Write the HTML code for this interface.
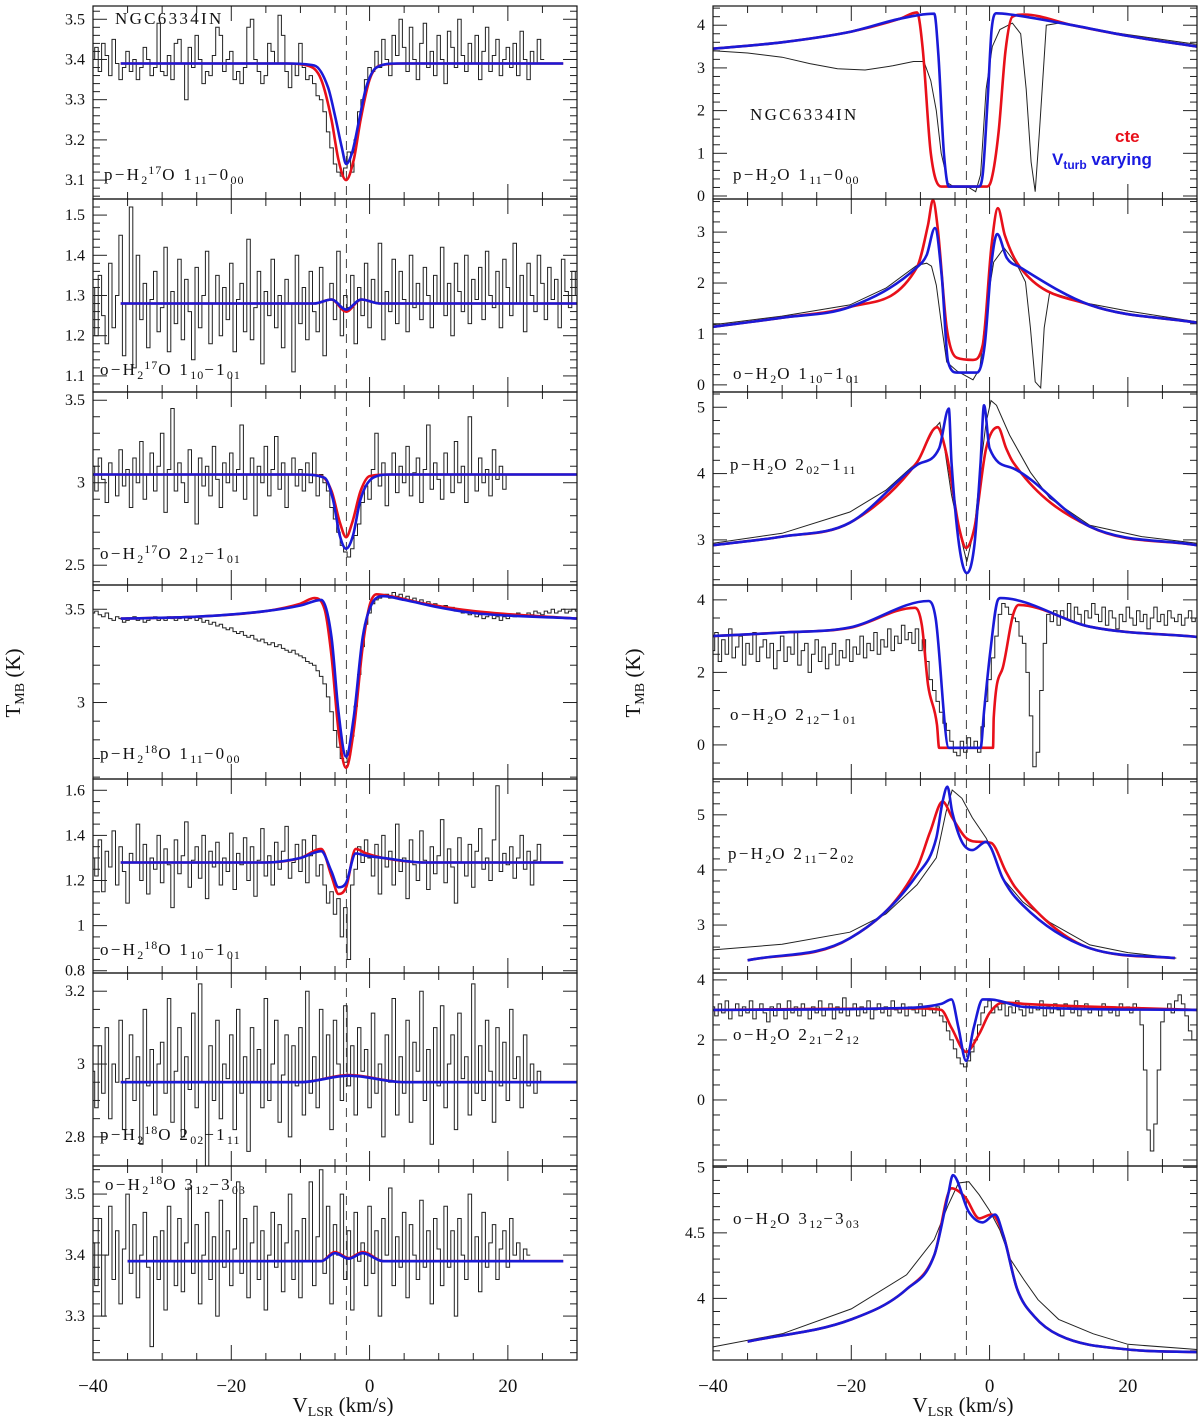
<!DOCTYPE html>
<html><head><meta charset="utf-8">
<style>
body{margin:0;background:#fff;}
#wrap{position:relative;width:1200px;height:1416px;overflow:hidden;font-family:"Liberation Serif",serif;}
svg{position:absolute;left:0;top:0;}
.lab{position:absolute;font-size:17px;line-height:17px;color:#111;white-space:nowrap;letter-spacing:2.3px;}
.lab sub{font-size:12px;vertical-align:-4px;line-height:0;letter-spacing:1px;}
.lab sup{font-size:12px;vertical-align:6px;line-height:0;letter-spacing:1px;}
.cte{position:absolute;font-family:"Liberation Sans",sans-serif;font-weight:bold;font-size:17px;color:#e8101a;}
.vt{position:absolute;font-family:"Liberation Sans",sans-serif;font-weight:bold;font-size:17px;color:#1a1ae0;white-space:nowrap;}
.vt sub{font-size:12px;vertical-align:-4px;line-height:0;}
</style></head><body>
<div id="wrap">
<svg id="chart" width="1200" height="1416"></svg>

<div class="lab" style="left:115px;top:10px">NGC6334IN</div>
<div class="lab" style="left:104px;top:166px">p−H<sub>2</sub><sup>17</sup>O 1<sub>11</sub>−0<sub>00</sub></div>
<div class="lab" style="left:100px;top:361px">o−H<sub>2</sub><sup>17</sup>O 1<sub>10</sub>−1<sub>01</sub></div>
<div class="lab" style="left:100px;top:545px">o−H<sub>2</sub><sup>17</sup>O 2<sub>12</sub>−1<sub>01</sub></div>
<div class="lab" style="left:100px;top:745px">p−H<sub>2</sub><sup>18</sup>O 1<sub>11</sub>−0<sub>00</sub></div>
<div class="lab" style="left:100px;top:941px">o−H<sub>2</sub><sup>18</sup>O 1<sub>10</sub>−1<sub>01</sub></div>
<div class="lab" style="left:100px;top:1126px">p−H<sub>2</sub><sup>18</sup>O 2<sub>02</sub>−1<sub>11</sub></div>
<div class="lab" style="left:105px;top:1176px">o−H<sub>2</sub><sup>18</sup>O 3<sub>12</sub>−3<sub>03</sub></div>

<div class="lab" style="left:750px;top:106px">NGC6334IN</div>
<div class="lab" style="left:733px;top:166px">p−H<sub>2</sub>O 1<sub>11</sub>−0<sub>00</sub></div>
<div class="lab" style="left:733px;top:365px">o−H<sub>2</sub>O 1<sub>10</sub>−1<sub>01</sub></div>
<div class="lab" style="left:730px;top:456px">p−H<sub>2</sub>O 2<sub>02</sub>−1<sub>11</sub></div>
<div class="lab" style="left:730px;top:706px">o−H<sub>2</sub>O 2<sub>12</sub>−1<sub>01</sub></div>
<div class="lab" style="left:728px;top:845px">p−H<sub>2</sub>O 2<sub>11</sub>−2<sub>02</sub></div>
<div class="lab" style="left:733px;top:1026px">o−H<sub>2</sub>O 2<sub>21</sub>−2<sub>12</sub></div>
<div class="lab" style="left:733px;top:1210px">o−H<sub>2</sub>O 3<sub>12</sub>−3<sub>03</sub></div>

<div class="cte" style="left:1115px;top:127px">cte</div>
<div class="vt" style="left:1052px;top:150px">V<sub>turb</sub> varying</div>
</div>

<script>
// ---------- observed spectra on 0.5 km/s grids (start -40) ----------
const l1Obs=[3.40,3.43,3.37,3.44,3.41,3.36,3.45,3.39,3.35,3.38,3.42,3.37,3.40,3.35,3.38,3.43,3.40,3.36,3.38,3.49,3.37,
3.36,3.41,3.35,3.44,3.45,3.39,3.30,3.43,3.38,3.46,3.40,3.34,3.37,3.36,3.41,3.48,3.46,3.37,3.40,3.42,
3.35,3.37,3.34,3.38,3.48,3.50,3.40,3.37,3.34,3.36,3.44,3.42,3.39,3.51,3.46,3.37,3.33,3.39,3.36,3.44,
3.38,3.35,3.36,3.34,3.31,3.30,3.27,3.22,3.18,3.14,3.12,3.11,3.13,3.17,3.12,3.20,3.27,3.30,3.35,3.38,
3.37,3.42,3.38,3.45,3.40,3.36,3.46,3.41,3.50,3.43,3.37,3.48,3.40,3.35,3.44,3.49,3.38,3.42,3.36,3.46,
3.40,3.34,3.47,3.43,3.38,3.50,3.41,3.37,3.44,3.39,3.46,3.35,3.42,3.48,3.37,3.41,3.45,3.36,3.40,3.43,
3.38,3.44,3.36,3.47,3.40,3.35,3.42,3.39,3.45,3.40];
const l2Obs=[1.32,1.20,1.35,1.25,1.18,1.38,1.22,1.30,1.45,1.15,1.28,1.52,1.12,1.40,1.24,1.33,1.17,1.29,1.36,1.21,
1.27,1.42,1.16,1.31,1.23,1.39,1.19,1.34,1.26,1.14,1.37,1.22,1.30,1.41,1.18,1.28,1.35,1.20,1.32,1.24,
1.38,1.16,1.29,1.33,1.21,1.44,1.19,1.27,1.36,1.13,1.31,1.25,1.39,1.22,1.30,1.17,1.34,1.28,1.11,1.40,
1.23,1.32,1.19,1.36,1.26,1.21,1.37,1.15,1.29,1.33,1.24,1.41,1.20,1.30,1.27,1.35,1.18,1.32,1.25,1.38,
1.22,1.34,1.28,1.43,1.19,1.31,1.26,1.39,1.23,1.36,1.29,1.21,1.40,1.27,1.33,1.24,1.37,1.30,1.22,1.35,
1.28,1.42,1.25,1.33,1.20,1.38,1.31,1.26,1.40,1.23,1.34,1.29,1.37,1.24,1.41,1.30,1.27,1.36,1.22,1.39,
1.32,1.25,1.43,1.28,1.35,1.21,1.38,1.30,1.26,1.40,1.33,1.24,1.37,1.29,1.34,1.22,1.39,1.31,1.27,1.36,1.30];
const l3Obs=[3.10,2.95,3.15,3.02,2.88,3.12,3.05,2.92,3.20,2.98,3.08,2.85,3.15,3.00,3.25,2.90,3.05,3.18,2.95,3.10,
3.30,2.82,3.08,3.45,2.95,3.12,3.00,2.88,3.20,3.05,2.75,3.15,2.98,3.10,2.92,3.22,3.02,2.85,3.12,3.00,
3.18,2.95,3.08,3.35,2.90,3.05,3.15,2.80,3.10,3.00,3.22,2.92,3.08,3.28,2.96,3.12,2.85,3.05,3.15,2.98,
3.08,2.95,3.12,3.00,3.18,2.92,3.05,3.00,2.95,2.85,2.78,2.70,2.62,2.58,2.55,2.60,2.68,2.75,2.88,2.98,
2.90,3.08,3.30,2.98,3.12,2.86,3.05,3.18,2.94,3.10,3.00,3.22,2.92,3.06,3.15,2.88,3.08,3.35,2.96,3.12,
3.02,2.90,3.18,3.05,2.94,3.25,3.00,3.10,2.88,3.40,3.05,2.95,3.15,3.00,3.08,2.92,3.20,3.02,3.10,2.96,3.05];
const l4Obs=[3.48,3.49,3.47,3.46,3.48,3.45,3.44,3.46,3.45,3.43,3.44,3.45,3.46,3.44,3.45,3.43,3.44,3.45,3.46,3.44,
3.45,3.44,3.46,3.45,3.44,3.45,3.46,3.44,3.45,3.46,3.44,3.45,3.43,3.44,3.42,3.43,3.41,3.42,3.40,3.39,
3.40,3.38,3.37,3.38,3.36,3.35,3.36,3.34,3.33,3.34,3.32,3.31,3.32,3.30,3.31,3.29,3.28,3.27,3.28,3.26,
3.25,3.24,3.22,3.21,3.20,3.17,3.14,3.10,3.03,2.95,2.85,2.76,2.70,2.68,2.72,2.82,2.98,3.15,3.30,3.42,
3.48,3.53,3.55,3.56,3.57,3.58,3.56,3.59,3.57,3.58,3.56,3.57,3.55,3.56,3.54,3.55,3.53,3.54,3.52,3.53,
3.52,3.51,3.52,3.50,3.51,3.49,3.50,3.48,3.49,3.47,3.48,3.46,3.47,3.45,3.46,3.47,3.45,3.46,3.44,3.46,
3.45,3.47,3.46,3.48,3.47,3.46,3.48,3.47,3.49,3.48,3.47,3.49,3.48,3.50,3.48,3.49,3.50,3.48,3.49,3.50,3.49];
const l5Obs=[1.30,1.22,1.38,1.15,1.33,1.26,1.42,1.18,1.35,1.24,1.10,1.32,1.28,1.45,1.20,1.36,1.14,1.30,1.25,1.40,
1.19,1.34,1.27,1.08,1.38,1.23,1.31,1.46,1.17,1.29,1.35,1.21,1.40,1.12,1.33,1.26,1.37,1.18,1.30,1.24,
1.41,1.16,1.32,1.27,1.39,1.20,1.35,1.13,1.29,1.43,1.22,1.31,1.18,1.37,1.25,1.33,1.44,1.21,1.28,1.36,
1.24,1.38,1.19,1.31,1.40,1.22,1.27,1.18,1.10,1.15,1.05,1.12,0.95,1.08,0.85,1.18,1.25,1.35,1.28,1.38,
1.30,1.22,1.36,1.14,1.40,1.26,1.33,1.18,1.45,1.24,1.30,1.12,1.38,1.27,1.20,1.42,1.29,1.16,1.35,1.23,
1.31,1.47,1.19,1.34,1.26,1.10,1.39,1.28,1.22,1.36,1.17,1.33,1.43,1.25,1.30,1.20,1.38,1.62,1.24,1.32,
1.27,1.35,1.21,1.30,1.40,1.25,1.33,1.18,1.29,1.36,1.28];
const l6Obs=[2.98,2.88,3.05,2.92,3.10,2.85,3.00,2.95,3.12,2.82,2.96,3.08,2.90,3.02,2.78,3.15,2.94,3.04,2.86,3.00,
3.06,2.92,3.18,2.84,2.98,3.10,2.80,3.02,2.93,3.14,2.88,3.22,2.95,2.70,3.05,2.90,3.12,2.85,3.00,2.96,
3.08,2.82,3.15,2.92,3.02,2.76,3.10,2.95,3.04,2.88,3.18,2.90,3.00,3.12,2.84,2.97,3.08,2.80,3.05,2.94,
3.10,2.86,3.20,2.92,3.02,2.88,3.15,2.96,3.08,2.82,3.12,3.00,2.90,3.16,2.94,3.05,2.86,3.10,2.98,3.04,
2.88,3.14,2.92,3.00,2.80,3.08,2.95,3.18,2.86,3.02,2.92,3.12,2.84,3.06,2.98,3.20,2.90,3.04,2.78,3.10,
2.94,3.16,2.88,3.00,3.08,2.82,3.14,2.96,3.02,2.86,3.22,2.92,3.05,2.90,3.12,2.98,2.84,3.10,2.94,3.06,
2.90,3.15,2.96,3.02,2.88,3.08,2.94,3.00,2.92,2.98,2.95];
const l7Obs=[3.42,3.35,3.46,3.30,3.40,3.48,3.36,3.44,3.32,3.41,3.50,3.37,3.45,3.33,3.40,3.47,3.38,3.25,3.43,3.36,
3.44,3.31,3.48,3.39,3.35,3.46,3.34,3.42,3.51,3.37,3.45,3.32,3.40,3.47,3.36,3.43,3.30,3.49,3.38,3.44,
3.35,3.41,3.52,3.37,3.46,3.33,3.42,3.48,3.36,3.44,3.31,3.40,3.47,3.38,3.45,3.34,3.42,3.50,3.36,3.44,
3.33,3.46,3.39,3.52,3.35,3.43,3.54,3.37,3.48,3.32,3.45,3.40,3.50,3.36,3.44,3.31,3.47,3.39,3.42,3.35,
3.48,3.37,3.44,3.30,3.46,3.40,3.51,3.35,3.43,3.38,3.47,3.33,3.45,3.40,3.36,3.49,3.38,3.44,3.32,3.46,
3.41,3.35,3.48,3.38,3.44,3.30,3.46,3.40,3.36,3.50,3.39,3.43,3.34,3.47,3.38,3.42,3.45,3.36,3.41,3.44,
3.38,3.46,3.40,3.42,3.39,3.41,3.40];
const r4Obs=[2.6,3.1,2.3,2.9,2.5,3.2,2.4,2.7,3.0,2.2,2.8,2.5,3.1,2.3,2.7,2.9,2.4,2.8,2.1,2.6,
3.0,2.3,2.7,2.5,3.1,2.2,2.6,2.8,2.0,2.5,2.9,2.3,2.7,2.1,2.5,2.8,2.2,2.6,2.4,2.9,
2.3,2.7,2.5,3.0,2.4,2.8,2.6,3.1,2.5,2.9,2.7,3.2,2.6,3.0,2.8,3.3,2.9,3.1,2.8,3.2,
2.6,2.9,2.3,1.8,1.5,1.2,0.9,0.6,0.4,0.1,-0.2,-0.3,0.1,-0.2,0.2,-0.1,0.1,-0.2,0.5,1.2,
1.8,2.4,3.0,3.6,3.9,3.8,3.6,3.5,3.4,3.0,2.8,2.0,0.8,-0.6,-0.2,1.5,2.8,3.6,3.4,3.7,
3.3,3.7,3.5,3.9,3.4,3.8,3.6,3.3,3.7,3.5,3.9,3.6,3.4,3.8,3.3,3.7,3.5,3.2,3.6,3.4,
3.8,3.5,3.3,3.7,3.4,3.6,3.2,3.5,3.8,3.4,3.6,3.3,3.7,3.5,3.4,3.6,3.3,3.5,3.7,3.4,3.5];
const r6Obs=[3.1,2.8,3.2,2.9,3.3,2.7,3.0,3.2,2.8,3.1,2.9,3.3,2.7,3.0,3.2,2.9,2.6,3.1,2.8,3.2,
3.0,2.7,3.3,2.9,3.1,2.8,3.2,3.0,2.7,3.1,2.9,3.3,2.8,3.0,3.2,2.7,3.1,2.9,3.4,2.8,
3.0,3.2,2.8,3.1,2.9,3.3,2.7,3.0,3.2,2.9,3.1,2.8,3.3,3.0,2.9,3.2,2.8,3.1,3.0,2.9,
3.2,2.8,3.1,3.0,2.9,3.1,2.8,2.6,2.3,2.0,1.7,1.4,1.2,1.1,1.3,1.6,2.0,2.5,2.9,3.1,
3.3,2.9,3.1,3.0,3.2,2.8,3.1,2.9,3.3,3.0,2.8,3.2,2.9,3.1,3.0,3.3,2.8,3.1,2.9,3.2,
3.0,2.8,3.2,3.1,2.9,3.3,2.8,3.0,3.2,2.9,3.1,3.0,2.8,3.2,3.0,2.9,3.1,2.8,3.2,3.0,
3.1,2.9,3.2,3.0,2.5,1.0,-1.0,-1.7,-0.8,1.0,2.6,3.0,3.2,2.9,3.3,3.5,3.2,2.8,2.3,2.0,2.0];

// ---------- smooth observed spectra (velocity / temperature pairs) ----------
const r1ObsV=[-40,-35,-30,-26,-22,-18,-14,-11,-9.5,-8.5,-7.7,-7,-6,-5,-3,-2,-1.3,-0.5,0.4,1.5,3.3,4.5,5.3,6,6.6,7.2,8.2,10,15,20,30];
const r1ObsT=[3.4,3.35,3.25,3.1,2.98,2.95,3.05,3.15,3.15,2.7,2.0,1.0,0.3,0.2,0.2,0.1,0.5,2.5,3.5,3.9,4.05,3.8,2.5,0.8,0.1,1.5,4.0,4.05,3.9,3.78,3.55];
const r2ObsV=[-40,-30,-20.2,-15,-10.5,-9.1,-8.4,-7.7,-6.9,-6.2,-4.7,-2.4,-1.4,-0.4,0.6,2.1,4.0,5.2,5.9,6.6,7.4,7.9,8.7,13.8,20,30];
const r2ObsT=[1.18,1.35,1.57,1.9,2.35,2.39,2.33,1.96,1.12,0.45,0.27,0.1,0.33,1.57,2.41,2.69,2.35,2.02,1.12,0.06,-0.06,1.12,1.82,1.61,1.45,1.24];
const r3ObsV=[-40,-30,-20.2,-15,-10.5,-8,-7.2,-6.5,-5.5,-4.5,-3.3,-2.2,-1.3,-0.5,0.2,1.0,2.9,5.9,8.7,14.5,22,30];
const r3ObsT=[2.95,3.1,3.42,3.75,4.17,4.68,4.77,4.38,3.68,3.18,2.67,3.18,4.1,4.77,5.1,5.03,4.58,4.02,3.63,3.22,3.05,2.95];
const r5ObsV=[-40,-30,-20.2,-15,-10.5,-7.7,-6.3,-5.4,-4.0,-2.5,-0.5,0.5,1.9,4.8,8.7,14.5,20,27];
const r5ObsT=[2.55,2.65,2.87,3.2,3.73,4.22,5.05,5.45,5.3,4.95,4.58,4.33,3.85,3.42,3.05,2.64,2.5,2.4];
const r7ObsV=[-40,-30,-20,-12,-8,-6,-4.5,-3,-1.5,0,1.5,3,5,7,10,15,20,30];
const r7ObsT=[3.63,3.73,3.92,4.18,4.45,4.71,4.88,4.89,4.79,4.67,4.52,4.30,4.14,3.99,3.84,3.73,3.65,3.61];

// ---------- model curves: red = cte, blue = Vturb varying ----------
const l1RedV=[-36,-12,-9,-7,-5.5,-4.5,-3.4,-2.3,-1.3,0,1.5,5,28];
const l1RedT=[3.39,3.39,3.385,3.35,3.25,3.15,3.10,3.15,3.25,3.35,3.385,3.39,3.39];
const l1BlueV=[-36,-12,-8,-6,-5,-4,-3.4,-2.5,-1.5,-0.5,1,4,28];
const l1BlueT=[3.39,3.39,3.385,3.33,3.26,3.18,3.14,3.17,3.25,3.33,3.38,3.39,3.39];
const l2RedV=[-36,-8,-5.5,-3.4,-1.2,1.5,30];
const l2RedT=[1.28,1.28,1.29,1.26,1.29,1.28,1.28];
const l2BlueV=[-36,-8,-5.5,-3.4,-1.2,1.5,30];
const l2BlueT=[1.28,1.28,1.29,1.265,1.29,1.28,1.28];
const l3RedV=[-40,-10,-7,-5.5,-4.3,-3.4,-2.5,-1.3,0,3,30];
const l3RedT=[3.05,3.05,3.04,2.95,2.76,2.67,2.76,2.95,3.04,3.05,3.05];
const l3BlueV=[-40,-10,-6.5,-5.3,-4.3,-3.4,-2.4,-1.3,0.5,3,30];
const l3BlueT=[3.05,3.05,3.03,2.9,2.68,2.60,2.68,2.9,3.03,3.05,3.05];
const l4RedV=[-36,-25,-15,-10,-8,-6.5,-5.5,-4.5,-3.4,-2.3,-1,0,1,3,8,15,30];
const l4RedT=[3.45,3.46,3.49,3.53,3.56,3.50,3.25,2.85,2.65,2.85,3.3,3.52,3.58,3.57,3.53,3.49,3.45];
const l4BlueV=[-36,-25,-15,-10,-7,-5.5,-4.5,-3.4,-2.3,-1,0.5,2,5,10,15,30];
const l4BlueT=[3.45,3.46,3.49,3.52,3.55,3.35,2.95,2.71,2.92,3.35,3.54,3.57,3.55,3.51,3.48,3.45];
const l5RedV=[-36,-15,-10,-7,-5.5,-4.5,-3.4,-2,-0.5,2,8,28];
const l5RedT=[1.28,1.28,1.30,1.34,1.22,1.14,1.17,1.34,1.32,1.30,1.28,1.28];
const l5BlueV=[-36,-15,-10,-7,-5.5,-4.5,-3.4,-2,-0.5,2,8,28];
const l5BlueT=[1.28,1.28,1.30,1.33,1.24,1.17,1.19,1.32,1.31,1.30,1.28,1.28];
const l6RedV=[-36,-10,-3,5,30];
const l6RedT=[2.95,2.95,2.97,2.95,2.95];
const l6BlueV=[-36,-10,-3,5,30];
const l6BlueT=[2.95,2.95,2.968,2.95,2.95];
const l7RedV=[-35,-7,-5,-3,-1,2,28];
const l7RedT=[3.39,3.39,3.405,3.395,3.405,3.39,3.39];
const l7BlueV=[-35,-7,-5,-3,-1,2,28];
const l7BlueT=[3.39,3.39,3.403,3.394,3.403,3.39,3.39];

const r1RedV=[-40,-30,-20,-13,-10.5,-9.7,-8.5,-7.0,-0.5,0.3,1.3,2.3,3.3,5,12,20,30];
const r1RedT=[3.45,3.6,3.85,4.15,4.3,3.5,1.0,0.22,0.22,0.4,1.5,3.4,4.2,4.25,4.0,3.75,3.5];
const r1BlueV=[-40,-30,-20,-13,-8,-7.4,-6.6,-5.9,-1.6,-1.0,-0.3,0.3,1.0,3,12,20,30];
const r1BlueT=[3.45,3.6,3.85,4.15,4.27,3.3,1.0,0.22,0.22,0.5,2.2,3.9,4.28,4.25,4.0,3.75,3.5];
const r2RedV=[-40,-30,-20.2,-10.5,-8.9,-8.2,-7.5,-6.2,-4.7,-2.4,-1.0,0.3,1.2,2.2,4.4,14.5,30];
const r2RedT=[1.14,1.32,1.53,2.31,3.14,3.63,3.08,1.12,0.53,0.49,0.78,2.75,3.47,2.94,2.31,1.57,1.22];
const r2BlueV=[-40,-30,-20.2,-10.5,-9.1,-7.9,-6.9,-6.0,-4.7,-1.8,-0.7,0.3,1.1,2.5,4.4,14.5,30];
const r2BlueT=[1.14,1.32,1.53,2.31,2.55,3.08,2.1,0.45,0.24,0.24,0.78,2.41,2.96,2.49,2.31,1.57,1.22];
const r3RedV=[-40,-30,-20.2,-10.5,-7.6,-6.2,-4.4,-3.4,-2.2,-0.5,1.2,2.4,3.4,14.5,30];
const r3RedT=[2.92,3.05,3.26,4.17,4.70,4.28,3.18,2.88,3.18,4.38,4.70,4.38,4.17,3.20,2.92];
const r3BlueV=[-40,-30,-20.2,-10.5,-7.3,-5.9,-5.5,-4.4,-3.3,-2.2,-1.3,-0.8,0.0,3.4,14.5,30];
const r3BlueT=[2.92,3.05,3.26,4.13,4.38,4.98,4.17,2.92,2.5,2.92,4.17,5.03,4.38,4.08,3.20,2.92];
const r4RedV=[-40,-30,-20.2,-10.8,-9.8,-8.9,-7.6,-7.3,0.5,0.6,1.9,3.4,4.2,14.5,30];
const r4RedT=[3.0,3.1,3.23,3.78,3.31,1.66,0.55,-0.08,-0.08,0.74,2.12,3.59,3.86,3.26,2.98];
const r4BlueV=[-40,-30,-20.2,-8.8,-7.8,-5.9,-1.3,-0.8,0.1,1.2,1.6,14.5,30];
const r4BlueT=[3.0,3.1,3.24,3.97,3.5,-0.08,-0.08,0.91,2.57,4.0,4.05,3.26,2.98];
const r5RedV=[-35,-20.2,-10.5,-8.6,-6.8,-5.4,-3.4,-1.5,0.2,2.4,3.8,14.5,26.8];
const r5RedT=[2.36,2.76,4.04,4.69,5.24,4.95,4.58,4.51,4.49,3.96,3.67,2.58,2.4];
const r5BlueV=[-35,-20.2,-10.5,-7.7,-6.8,-6.1,-5.4,-4.0,-2.5,-0.5,0.2,1.9,4.8,14.5,26.8];
const r5BlueT=[2.36,2.76,3.91,4.58,5.24,5.51,5.05,4.51,4.36,4.51,4.4,3.85,3.36,2.58,2.4];
const r6RedV=[-40,-10,-7,-5.5,-3.4,-1.5,0,2,5,30];
const r6RedT=[3.0,3.05,3.0,2.4,1.6,2.2,2.9,3.25,3.2,3.0];
const r6BlueV=[-40,-15,-7,-5.5,-4.5,-3.4,-2.3,-1.0,0,5,30];
const r6BlueT=[3.0,3.05,3.2,3.35,2.4,1.3,2.4,3.35,3.35,3.1,3.0];
const r7RedV=[-35,-20,-12,-8,-5.5,-3.5,-1.5,0.3,2,4,6.5,10,20,30];
const r7RedT=[3.67,3.84,4.07,4.33,4.84,4.77,4.61,4.64,4.48,4.07,3.86,3.72,3.61,3.59];
const r7BlueV=[-35,-20,-12,-8,-6,-5.3,-3,-1,0.8,2,4,6.5,10,20,30];
const r7BlueT=[3.67,3.84,4.07,4.33,4.79,4.94,4.66,4.58,4.64,4.48,4.07,3.86,3.72,3.61,3.59];

// ---------- axis tick labels ----------
const xTickValues=[-40,-20,0,20];
const systemicVelocity=-3.35;

// ---------- layout ----------
const NS='http://www.w3.org/2000/svg';
const svg=document.getElementById('chart');
const edges=[6,199,392,585,779,973,1166,1360];
const colX={L:93,R:713};
const PW=484;
function mk(tag,attrs,parent){const e=document.createElementNS(NS,tag);for(const k in attrs)e.setAttribute(k,attrs[k]);(parent||svg).appendChild(e);return e;}
function xScale(col,v){return colX[col]+(v+40)/70*PW;}

const panels=[
 {col:'L',i:0,dom:[3.053,3.533],maj:0.1,min:0.02,obs:{grid:l1Obs},red:[l1RedV,l1RedT],blue:[l1BlueV,l1BlueT]},
 {col:'L',i:1,dom:[1.06,1.54],maj:0.1,min:0.02,obs:{grid:l2Obs},red:[l2RedV,l2RedT],blue:[l2BlueV,l2BlueT]},
 {col:'L',i:2,dom:[2.38,3.55],maj:0.5,min:0.1,obs:{grid:l3Obs},red:[l3RedV,l3RedT],blue:[l3BlueV,l3BlueT]},
 {col:'L',i:3,dom:[2.59,3.63],maj:0.5,min:0.1,obs:{grid:l4Obs},red:[l4RedV,l4RedT],blue:[l4BlueV,l4BlueT]},
 {col:'L',i:4,dom:[0.79,1.65],maj:0.2,min:0.05,obs:{grid:l5Obs},red:[l5RedV,l5RedT],blue:[l5BlueV,l5BlueT]},
 {col:'L',i:5,dom:[2.72,3.25],maj:0.2,min:0.05,obs:{grid:l6Obs},red:[l6RedV,l6RedT],blue:[l6BlueV,l6BlueT]},
 {col:'L',i:6,dom:[3.228,3.546],maj:0.1,min:0.02,obs:{grid:l7Obs},red:[l7RedV,l7RedT],blue:[l7BlueV,l7BlueT]},
 {col:'R',i:0,dom:[-0.07,4.45],maj:1,min:0.2,obs:{v:r1ObsV,t:r1ObsT},red:[r1RedV,r1RedT],blue:[r1BlueV,r1BlueT]},
 {col:'R',i:1,dom:[-0.14,3.65],maj:1,min:0.2,obs:{v:r2ObsV,t:r2ObsT},red:[r2RedV,r2RedT],blue:[r2BlueV,r2BlueT]},
 {col:'R',i:2,dom:[2.32,5.23],maj:1,min:0.2,obs:{v:r3ObsV,t:r3ObsT},red:[r3RedV,r3RedT],blue:[r3BlueV,r3BlueT]},
 {col:'R',i:3,dom:[-0.94,4.41],maj:2,min:0.5,obs:{grid:r4Obs},red:[r4RedV,r4RedT],blue:[r4BlueV,r4BlueT]},
 {col:'R',i:4,dom:[2.13,5.65],maj:1,min:0.2,obs:{v:r5ObsV,t:r5ObsT},red:[r5RedV,r5RedT],blue:[r5BlueV,r5BlueT]},
 {col:'R',i:5,dom:[-2.2,4.23],maj:2,min:0.5,obs:{grid:r6Obs},red:[r6RedV,r6RedT],blue:[r6BlueV,r6BlueT]},
 {col:'R',i:6,dom:[3.53,5.01],maj:0.5,min:0.1,obs:{v:r7ObsV,t:r7ObsT},red:[r7RedV,r7RedT],blue:[r7BlueV,r7BlueT]}
];

// monotone cubic (no overshoot)
function smoothPath(pts){
  const n=pts.length;
  const d=[],m=new Array(n);
  for(let i=0;i<n-1;i++){const dx=pts[i+1][0]-pts[i][0];d.push(dx===0?0:(pts[i+1][1]-pts[i][1])/dx);}
  m[0]=d[0];m[n-1]=d[n-2];
  for(let i=1;i<n-1;i++){m[i]=(d[i-1]*d[i]<=0)?0:(d[i-1]+d[i])/2;}
  for(let i=0;i<n-1;i++){
    if(d[i]===0){m[i]=0;m[i+1]=0;continue;}
    const a=m[i]/d[i],b=m[i+1]/d[i],s=a*a+b*b;
    if(s>9){const t=3/Math.sqrt(s);m[i]=t*a*d[i];m[i+1]=t*b*d[i];}
  }
  let path='M'+pts[0][0].toFixed(1)+','+pts[0][1].toFixed(1);
  for(let i=0;i<n-1;i++){
    const h=(pts[i+1][0]-pts[i][0])/3;
    path+=' C'+(pts[i][0]+h).toFixed(1)+','+(pts[i][1]+m[i]*h).toFixed(1)+' '+(pts[i+1][0]-h).toFixed(1)+','+(pts[i+1][1]-m[i+1]*h).toFixed(1)+' '+pts[i+1][0].toFixed(1)+','+pts[i+1][1].toFixed(1);
  }
  return path;
}
function fmt(v){return String(+v.toFixed(2));}

panels.forEach(p=>{
  const top=edges[p.i],bot=edges[p.i+1];
  const x0=colX[p.col],x1=x0+PW;
  const ys=t=>bot-(t-p.dom[0])/(p.dom[1]-p.dom[0])*(bot-top);
  const xs=v=>xScale(p.col,v);
  const g=mk('g',{});
  
  
  const clipId='clip'+p.col+p.i;
  const cp=mk('clipPath',{id:clipId},g);
  mk('rect',{x:x0,y:top,width:PW,height:bot-top},cp);
  const tg=mk('g',{stroke:'#222','stroke-width':1},g);
  
  
  const start=Math.ceil(p.dom[0]/p.min-1e-6);
  for(let k=start;k*p.min<=p.dom[1]+1e-9;k++){
    const t=k*p.min,y=ys(t);
    if(y<top+1||y>bot-1)continue;
    const isMaj=Math.abs(t/p.maj-Math.round(t/p.maj))<1e-6;
    const len=isMaj?14:7;
    mk('line',{x1:x0,y1:y,x2:x0+len,y2:y},tg);
    mk('line',{x1:x1,y1:y,x2:x1-len,y2:y},tg);
    if(isMaj && !(t<0 && y>bot-10)){
      const tx=mk('text',{x:x0-8,y:y+5,'text-anchor':'end','font-size':16,'font-family':'Liberation Serif, serif',fill:'#111',stroke:'none'},g);
      tx.textContent=fmt(t).replace('-','−');
      
      
    }
  }
  for(let v=-35;v<30;v+=5){
    const x=xs(v);const len=(v%20===0)?15:7;
    mk('line',{x1:x,y1:top,x2:x,y2:top+len,stroke:'#222'},g);
    mk('line',{x1:x,y1:bot,x2:x,y2:bot-len,stroke:'#222'},g);
  }
  const dl=mk('line',{x1:xs(systemicVelocity),y1:top,x2:xs(systemicVelocity),y2:bot,stroke:'#444','stroke-width':1,'stroke-dasharray':'9,6'},g);
  
  
  let od='';
  if(p.obs.grid){
    const arr=p.obs.grid;
    arr.forEach((t,j)=>{const xa=xs(-40+j*0.5-0.25),xb=xs(-40+j*0.5+0.25),y=ys(t);
      od+=(j===0?'M'+xa.toFixed(1)+','+y.toFixed(1):' V'+y.toFixed(1))+' H'+xb.toFixed(1);});
  } else {
    od='M'+p.obs.v.map((v,j)=>xs(v).toFixed(1)+','+ys(p.obs.t[j]).toFixed(1)).join(' L');
  }
  const op=mk('path',{d:od,fill:'none',stroke:'#222','stroke-width':1,'clip-path':'url(#'+clipId+')'},g);
  
  
  const rp=mk('path',{d:smoothPath(p.red[0].map((v,j)=>[xs(v),ys(p.red[1][j])])),fill:'none',stroke:'#e8101a','stroke-width':2.6,'clip-path':'url(#'+clipId+')'},g);
  
  
  const bp=mk('path',{d:smoothPath(p.blue[0].map((v,j)=>[xs(v),ys(p.blue[1][j])])),fill:'none',stroke:'#1a1ad8','stroke-width':2.6,'clip-path':'url(#'+clipId+')'},g);
  
  
  const fr=mk('rect',{x:x0,y:top,width:PW,height:bot-top,fill:'none',stroke:'#111','stroke-width':1.2},g);
  
  
});

['L','R'].forEach(col=>{
  xTickValues.forEach(v=>{
    const t=mk('text',{x:xScale(col,v),y:1392,'text-anchor':'middle','font-size':19,'font-family':'Liberation Serif, serif',fill:'#111'});
    t.textContent=String(v).replace('-','−');
    
    
  });
  const cx=colX[col]+250;
  const xt=mk('text',{x:cx,y:1412,'text-anchor':'middle','font-size':21,'font-family':'Liberation Serif, serif',fill:'#111'});
  xt.innerHTML='V<tspan font-size="14" dy="4">LSR</tspan><tspan dy="-4"> (km/s)</tspan>';
  
  
  const ax=col==='L'?20:640;
  const yt=mk('text',{x:ax,y:683,'text-anchor':'middle','font-size':21,'font-family':'Liberation Serif, serif',fill:'#111',transform:'rotate(-90 '+ax+' 683)'});
  yt.innerHTML='T<tspan font-size="14" dy="4">MB</tspan><tspan dy="-4"> (K)</tspan>';
  
  
});
</script>
</body></html>
